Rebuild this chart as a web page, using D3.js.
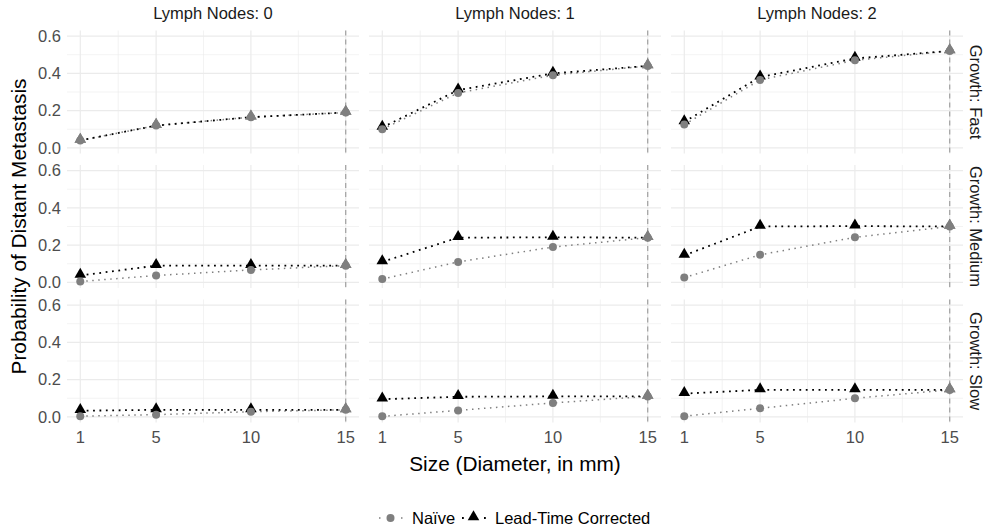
<!DOCTYPE html>
<html>
<head>
<meta charset="utf-8">
<script src="https://cdn.jsdelivr.net/npm/d3@7"></script>
<style>
  body { margin: 0; background: #fff; }
  text { font-family: "Liberation Sans", Arial, sans-serif; }
</style>
</head>
<body>
<svg id="chart" width="988" height="527"></svg>
<script>
'use strict';

// facet levels
const nodeLevels = ['0', '1', '2'];
const growthLevels = ['Fast', 'Medium', 'Slow'];
const sizes = [1, 5, 10, 15];
const xTicks = [1, 5, 10, 15];
const yTicks = [0, 0.2, 0.4, 0.6];

// values per growth row, one array per lymph-node column
const naiveFast = [[0.040, 0.120, 0.165, 0.190], [0.100, 0.295, 0.390, 0.440], [0.125, 0.365, 0.470, 0.520]];
const correctedFast = [[0.040, 0.120, 0.165, 0.190], [0.110, 0.310, 0.400, 0.440], [0.140, 0.380, 0.480, 0.520]];
const naiveMedium = [[0.005, 0.037, 0.067, 0.090], [0.018, 0.110, 0.190, 0.240], [0.026, 0.148, 0.242, 0.300]];
const correctedMedium = [[0.037, 0.090, 0.090, 0.090], [0.110, 0.240, 0.242, 0.240], [0.145, 0.300, 0.302, 0.300]];
const naiveSlow = [[0.004, 0.012, 0.028, 0.038], [0.003, 0.035, 0.075, 0.110], [0.004, 0.046, 0.100, 0.145]];
const correctedSlow = [[0.033, 0.038, 0.038, 0.038], [0.095, 0.108, 0.110, 0.110], [0.125, 0.145, 0.145, 0.145]];

const naiveByGrowth = {Fast: naiveFast, Medium: naiveMedium, Slow: naiveSlow};
const correctedByGrowth = {Fast: correctedFast, Medium: correctedMedium, Slow: correctedSlow};

const svg = d3.select('#chart');

const marginLeft = 67, marginTop = 30.5;
const panelW = 292, panelH = 123;
const gapX = 10, gapY = 11.5;

const x = d3.scaleLinear().domain([0.3, 15.7]).range([0, panelW]);
const y = d3.scaleLinear().domain([-0.03, 0.63]).range([panelH, 0]);

const gridCol = '#ebebeb';
const naiveCol = '#7f7f7f';
const smallFont = '16.5px';

const line = d3.line()
    .x(function(d) { return x(d.size); })
    .y(function(d) { return y(d.value); });

const triangle = d3.symbol().type(d3.symbolTriangle).size(58);

growthLevels.forEach(function(g, r) {
    nodeLevels.forEach(function(n, c) {
        const px = marginLeft + c * (panelW + gapX);
        const py = marginTop + r * (panelH + gapY);
        const p = svg.append('g').attr('transform', 'translate(' + px + ',' + py + ')');

        // minor grid
        const minorX = xTicks.slice(1).map(function(t, i) { return (t + xTicks[i]) / 2; });
        const minorY = yTicks.slice(1).map(function(t, i) { return (t + yTicks[i]) / 2; });
        p.selectAll('.minx').data(minorX).enter().append('line')
            .attr('x1', function(d) { return x(d); }).attr('x2', function(d) { return x(d); })
            .attr('y1', 0).attr('y2', panelH)
            .style('stroke', gridCol).style('stroke-width', 0.6);
        p.selectAll('.miny').data(minorY).enter().append('line')
            .attr('y1', function(d) { return y(d); }).attr('y2', function(d) { return y(d); })
            .attr('x1', 0).attr('x2', panelW)
            .style('stroke', gridCol).style('stroke-width', 0.6);

        // major grid
        p.selectAll('.majx').data(xTicks).enter().append('line')
            .attr('x1', function(d) { return x(d); }).attr('x2', function(d) { return x(d); })
            .attr('y1', 0).attr('y2', panelH)
            .style('stroke', gridCol).style('stroke-width', 1.2);
        p.selectAll('.majy').data(yTicks).enter().append('line')
            .attr('y1', function(d) { return y(d); }).attr('y2', function(d) { return y(d); })
            .attr('x1', 0).attr('x2', panelW)
            .style('stroke', gridCol).style('stroke-width', 1.2);

        // reference line at largest size
        p.append('line')
            .attr('x1', x(d3.max(sizes))).attr('x2', x(d3.max(sizes)))
            .attr('y1', 0).attr('y2', panelH)
            .style('stroke', '#9a9a9a').style('stroke-width', 1.1)
            .style('stroke-dasharray', '5,4');

        const naive = sizes.map(function(s, i) { return {size: s, value: naiveByGrowth[g][c][i]}; });
        const corr = sizes.map(function(s, i) { return {size: s, value: correctedByGrowth[g][c][i], same: Math.abs(correctedByGrowth[g][c][i] - naiveByGrowth[g][c][i]) < 0.006}; });

        p.append('path').datum(naive).attr('d', line)
            .style('fill', 'none').style('stroke', naiveCol)
            .style('stroke-width', 1.5).style('stroke-dasharray', '1.5,4.5');
        p.append('path').datum(corr).attr('d', line)
            .style('fill', 'none').style('stroke', '#000')
            .style('stroke-width', 1.8).style('stroke-dasharray', '1.8,4.6');

        p.selectAll('.tri').data(corr).enter().append('path')
            .attr('d', triangle)
            .attr('transform', function(d) { return 'translate(' + x(d.size) + ',' + (y(d.value) - 1) + ')'; })
            .style('fill', function(d) { return d.same ? naiveCol : '#000'; });
        p.selectAll('.dot').data(naive).enter().append('circle')
            .attr('cx', function(d) { return x(d.size); })
            .attr('cy', function(d) { return y(d.value); })
            .attr('r', 4)
            .style('fill', naiveCol);
        p.selectAll('.tri2').data(corr.filter(function(d) { return d.same; })).enter().append('path')
            .attr('d', triangle)
            .attr('transform', function(d) { return 'translate(' + x(d.size) + ',' + (y(d.value) - 1) + ')'; })
            .style('fill', naiveCol);

        // y tick labels on first column
        if (c === 0) {
            p.selectAll('.yl').data(yTicks).enter().append('text')
                .attr('x', -6).attr('y', function(d) { return y(d); })
                .attr('dy', '0.35em').attr('text-anchor', 'end')
                .style('font-size', smallFont).style('fill', '#4d4d4d')
                .text(d3.format('.1f'));
        }
        // x tick labels on bottom row
        if (r === growthLevels.length - 1) {
            p.selectAll('.xl').data(xTicks).enter().append('text')
                .attr('x', function(d) { return x(d); }).attr('y', panelH + 20.5)
                .attr('text-anchor', 'middle')
                .style('font-size', smallFont).style('fill', '#4d4d4d')
                .text(function(d) { return d; });
        }
        // strips
        if (r === 0) {
            p.append('text').attr('x', panelW / 2).attr('y', -12)
                .attr('text-anchor', 'middle')
                .style('font-size', smallFont).style('fill', '#1a1a1a')
                .text('Lymph Nodes: ' + n);
        }
        if (c === nodeLevels.length - 1) {
            p.append('text')
                .attr('transform', 'translate(' + (panelW + 7) + ',' + (panelH / 2) + ') rotate(90)')
                .attr('text-anchor', 'middle')
                .style('font-size', smallFont).style('fill', '#1a1a1a')
                .text('Growth: ' + g);
        }
    });
});

const plotRight = marginLeft + 3 * panelW + 2 * gapX;
const plotBottom = marginTop + 3 * panelH + 2 * gapY;

svg.append('text')
    .attr('x', (marginLeft + plotRight) / 2).attr('y', plotBottom + 48)
    .attr('text-anchor', 'middle')
    .style('font-size', '20.8px').style('fill', '#000')
    .text('Size (Diameter, in mm)');

svg.append('text')
    .attr('transform', 'translate(26,' + (marginTop + plotBottom) / 2 + ') rotate(-90)')
    .attr('text-anchor', 'middle')
    .style('font-size', '20.8px').style('fill', '#000')
    .text('Probability of Distant Metastasis');

// legend
const leg = svg.append('g').attr('transform', 'translate(378,518)');
leg.append('line').attr('x1', 1).attr('x2', 25)
    .style('stroke', naiveCol).style('stroke-width', 1.5).style('stroke-dasharray', '1.5,9.5');
leg.append('circle').attr('cx', 12.5).attr('cy', 0).attr('r', 4).style('fill', naiveCol);
leg.append('text').attr('x', 34).attr('dy', '0.35em')
    .style('font-size', smallFont).style('fill', '#000').text('Naïve');
leg.append('line').attr('x1', 84).attr('x2', 108)
    .style('stroke', '#000').style('stroke-width', 1.8).style('stroke-dasharray', '1.8,9.2');
leg.append('path').attr('d', triangle).attr('transform', 'translate(95.5,-1)').style('fill', '#000');
leg.append('text').attr('x', 117).attr('dy', '0.35em')
    .style('font-size', smallFont).style('fill', '#000').text('Lead-Time Corrected');
</script>
</body>
</html>
